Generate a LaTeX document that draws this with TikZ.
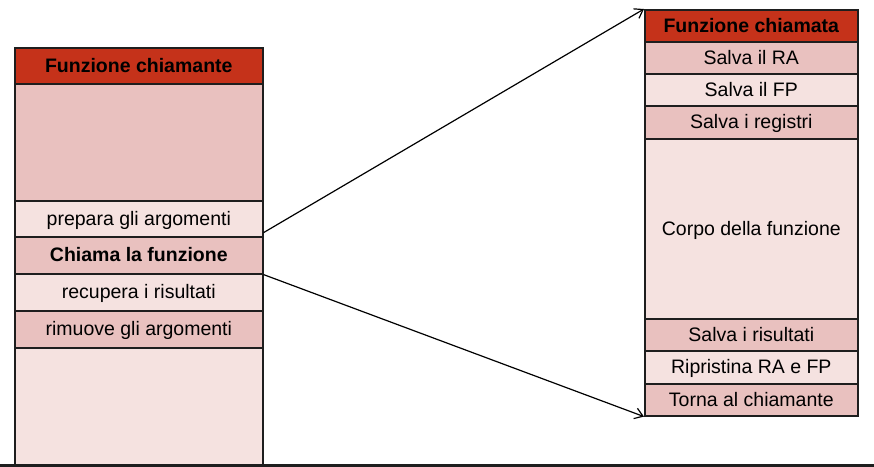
\documentclass[tikz,border=0pt]{standalone}
\usepackage{fontspec}
\setmainfont{Liberation Sans}
\usetikzlibrary{arrows.meta}
\definecolor{hdrred}{HTML}{C5321A}
\definecolor{pinkdark}{HTML}{E9C1BF}
\definecolor{pinklight}{HTML}{F5E2E0}
\definecolor{edge}{HTML}{1E1E1E}
\begin{document}
\begin{tikzpicture}[x=1pt,y=-1pt,
  cell/.style={draw=edge, line width=1.6pt, anchor=north west, inner sep=0pt,
    text height=13.5pt, text depth=1pt,
    font=\fontsize{19.5}{22}\selectfont, text=black},
  lw/.style={cell, minimum width=248pt},
  rw/.style={cell, minimum width=213pt},
  hdr/.style={fill=hdrred, font=\fontsize{19.5}{22}\selectfont\bfseries},
  dk/.style={fill=pinkdark},
  lt/.style={fill=pinklight},
  link/.style={draw=black, line width=1.2pt, -{Straight Barb[length=8pt,width=11pt]}}]
\useasboundingbox (0,0) rectangle (874,466);
% calling function stack
\node[lw, lt, minimum height=119pt] (lblank) at (14,347) {};
\node[lw, hdr, minimum height=36pt] (lhdr) at (14,47) {Funzione chiamante};
\node[lw, dk, minimum height=117pt] (lbody) at (14,83) {};
\node[lw, lt, minimum height=36pt] (lprep) at (14,200) {prepara gli argomenti};
\node[lw, dk, minimum height=37pt, font=\fontsize{19.5}{22}\selectfont\bfseries] (lcall) at (14,236) {Chiama la funzione};
\node[lw, lt, minimum height=37pt] (lget) at (14,273) {recupera i risultati};
\node[lw, dk, minimum height=37pt] (lrem) at (14,310) {rimuove gli argomenti};
% called function stack
\node[rw, hdr, minimum height=32pt] (rhdr) at (644,9) {Funzione chiamata};
\node[rw, dk, minimum height=32pt] (rra) at (644,41) {Salva il RA};
\node[rw, lt, minimum height=32pt] (rfp) at (644,73) {Salva il FP};
\node[rw, dk, minimum height=33pt] (rreg) at (644,105) {Salva i registri};
\node[rw, lt, minimum height=180pt] (rbody) at (644,138) {Corpo della funzione};
\node[rw, dk, minimum height=32pt] (rres) at (644,318) {Salva i risultati};
\node[rw, lt, minimum height=33pt] (rrest) at (644,350) {Ripristina RA e FP};
\node[rw, dk, minimum height=32pt] (rret) at (644,383) {Torna al chiamante};
% call and return links
\draw[link] ([yshift=5pt]lprep.south east) -- (rhdr.north west);
\draw[link] (lcall.south east) -- (rret.south west);
% base line
\coordinate (bl) at (0,465);
\coordinate (br) at (874,465);
\draw[edge, line width=3pt] (bl) -- (br);
\end{tikzpicture}
\end{document}
